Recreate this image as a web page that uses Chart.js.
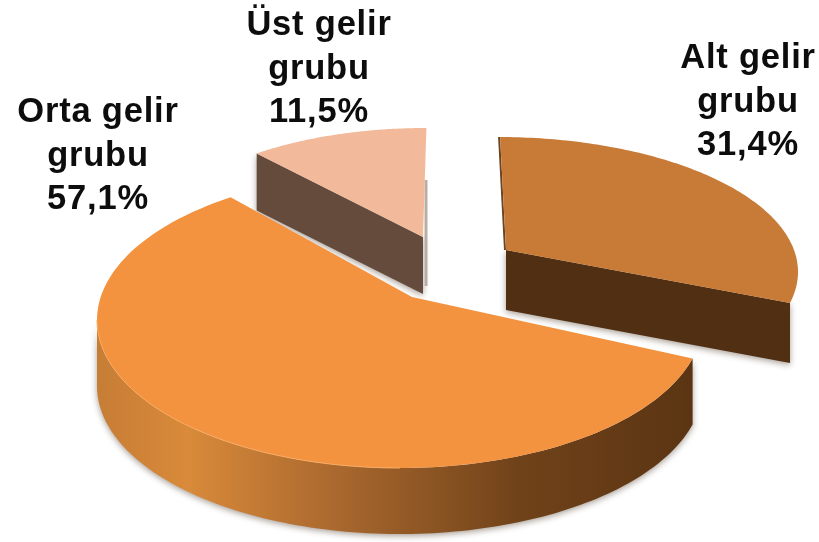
<!DOCTYPE html>
<html>
<head>
<meta charset="utf-8">
<style>html,body{margin:0;padding:0;background:#fff}canvas{display:block}</style>
<script src="https://cdn.jsdelivr.net/npm/chart.js@4"></script>
</head>
<body>
<canvas id="c" width="819" height="542" style="width:819px;height:542px"></canvas>
<script>
const categories = ['Alt gelir grubu', 'Orta gelir grubu', 'Üst gelir grubu'];
const shares = [31.4, 57.1, 11.5];
const topColors = ['#c87b37', '#f39340', '#f2ba9b'];

// Per-slice look of the tilted, exploded 3D pie (ellipse, apex, extrusion, label anchor)
const looks = [
  {ex:498,ey:272,rx:300,ry:135,tip:[506,250],rot:0.4,stretch:0.91,depth:60,wall:'#502f12',label:[748,68]},
  {ex:400,ey:320,rx:303,ry:148,tip:[412,297],rot:-8,stretch:1.075,depth:66,wall:null,label:[98,122]},
  {ex:426,ey:248,rx:275,ry:120,tip:[423,237],rot:3.4,stretch:0.92,depth:57,wall:'#644b3c',label:[319,35]}
];
const drawOrder = [2, 0, 1];
const deg = Math.PI / 180;

function rimAngles(el, look) {
  const first = el.startAngle + Math.PI / 2 + look.rot * deg;
  const sweep = (el.endAngle - el.startAngle) * look.stretch;
  return [first, first + sweep];
}
function rimPoint(look, t, dy) {
  return [look.ex + look.rx * Math.sin(t), look.ey - look.ry * Math.cos(t) + (dy || 0)];
}
function traceRim(ctx, look, a, b, dy) {
  const n = 120;
  for (let i = 0; i <= n; i++) {
    const p = rimPoint(look, a + (b - a) * i / n, dy);
    ctx.lineTo(p[0], p[1]);
  }
}
function softShadow(ctx, on) {
  ctx.shadowColor = on ? 'rgba(60,40,20,0.45)' : 'transparent';
  ctx.shadowBlur = on ? 6 : 0;
  ctx.shadowOffsetX = 0;
  ctx.shadowOffsetY = on ? 2 : 0;
}

const pie3d = {
  id: 'pie3d',
  beforeDatasetsDraw(chart) {
    const ctx = chart.ctx;
    const els = chart.getDatasetMeta(0).data;
    const colors = chart.data.datasets[0].backgroundColor;
    drawOrder.forEach(i => {
      const look = looks[i], el = els[i];
      const [a, b] = rimAngles(el, look);
      const d = look.depth;
      ctx.save();
      softShadow(ctx, true);
      if (i === 1) {
        const g = ctx.createLinearGradient(97, 0, 700, 0);
        g.addColorStop(0, '#c67d35');
        g.addColorStop(0.15, '#d98a3a');
        g.addColorStop(0.4, '#a9682e');
        g.addColorStop(0.7, '#704219');
        g.addColorStop(1, '#5a3413');
        ctx.fillStyle = g;
        const left = 1.5 * Math.PI;
        ctx.beginPath();
        traceRim(ctx, look, a, left, 0);
        traceRim(ctx, look, left, a, d);
        ctx.closePath();
        ctx.fill();
      } else {
        ctx.fillStyle = look.wall;
        ctx.beginPath();
        const q = i === 0 ? b : a;
        ctx.moveTo(look.tip[0], look.tip[1]);
        const p = rimPoint(look, q);
        ctx.lineTo(p[0], p[1]);
        ctx.lineTo(p[0], p[1] + d);
        ctx.lineTo(look.tip[0], look.tip[1] + d);
        ctx.closePath();
        ctx.fill();
        // thin inner edge beside the gap
        ctx.strokeStyle = i === 0 ? '#6b4420' : '#b8aea6';
        ctx.lineWidth = i === 0 ? 2 : 3;
        softShadow(ctx, false);
        ctx.beginPath();
        const s = rimPoint(look, i === 0 ? a : b);
        if (i === 0) {
          ctx.moveTo(s[0] - 1, s[1]);
          ctx.lineTo(look.tip[0] - 1, look.tip[1]);
        } else {
          ctx.moveTo(look.tip[0] + 3, look.tip[1] - 57);
          ctx.lineTo(look.tip[0] + 3, look.tip[1] + d - 8);
        }
        ctx.stroke();
      }
      ctx.restore();

      ctx.fillStyle = colors[i];
      ctx.beginPath();
      ctx.moveTo(look.tip[0], look.tip[1]);
      traceRim(ctx, look, a, b, 0);
      ctx.closePath();
      ctx.fill();
      if (i === 1) {
        ctx.strokeStyle = '#f8aa62';
        ctx.lineWidth = 1;
        ctx.beginPath();
        traceRim(ctx, look, 1.0 * Math.PI, 1.5 * Math.PI, 0);
        ctx.stroke();
      }
    });

    ctx.save();
    ctx.font = 'bold 34.5px "Liberation Sans", Arial, sans-serif';
    ctx.letterSpacing = '0.8px';
    ctx.fillStyle = '#0d0d0d';
    ctx.textAlign = 'center';
    ctx.textBaseline = 'alphabetic';
    chart.data.labels.forEach((name, i) => {
      const cut = name.lastIndexOf(' ');
      const lines = [name.slice(0, cut), name.slice(cut + 1),
        shares[i].toFixed(1).replace('.', ',') + '%'];
      lines.forEach((t, k) => ctx.fillText(t, looks[i].label[0], looks[i].label[1] + k * 43.5));
    });
    ctx.restore();
    return false;
  }
};

new Chart(document.getElementById('c'), {
  type: 'pie',
  data: {
    labels: categories,
    datasets: [{ data: shares, backgroundColor: topColors, borderWidth: 0 }]
  },
  options: {
    responsive: false,
    animation: false,
    rotation: 0,
    plugins: { legend: { display: false }, tooltip: { enabled: false } }
  },
  plugins: [pie3d]
});
</script>
</body>
</html>
